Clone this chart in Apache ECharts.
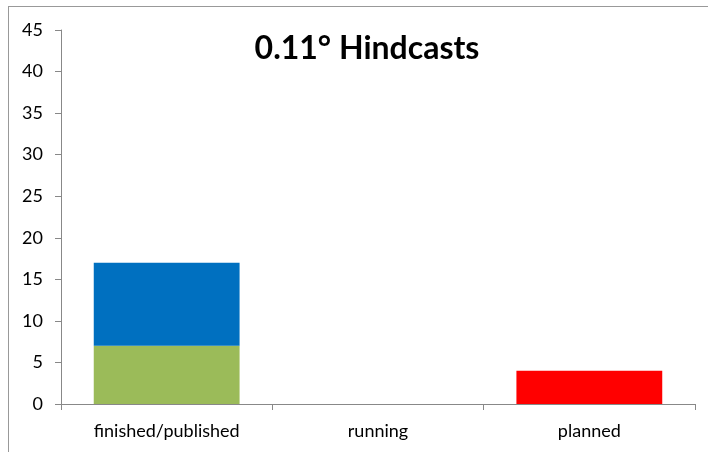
<!DOCTYPE html>
<html>
<head>
<meta charset="utf-8">
<script src="https://cdn.jsdelivr.net/npm/echarts@6/dist/echarts.min.js"></script>
<style>
  html, body { margin: 0; padding: 0; background: #fff; }
  #frame { position: absolute; left: 8px; top: 6px; width: 720px; height: 470px; border: 1px solid #999; box-sizing: border-box; }
  #main { position: absolute; left: 0; top: 0; width: 708px; height: 452px; }
</style>
</head>
<body>
<div id="frame"></div>
<div id="main"></div>
<script>
var categories = ["finished/published", "running", "planned"];
var finishedLow = [7, 0, 0];     // green part
var finishedHigh = [10, 0, 0];   // blue part stacked on top
var planned = [0, 0, 4];         // red

var font = "Lato, 'Open Sans', sans-serif";
var chartDom = document.getElementById("main");
var myChart = echarts.init(chartDom);
var option = {
  animation: false,
  title: {
    text: "0.11° Hindcasts",
    left: 362,
    top: 28,
    textAlign: "center",
    textStyle: { fontFamily: font, fontWeight: "bold", fontSize: 32, color: "#000" }
  },
  grid: { left: 61, right: 13, top: 30, bottom: 48 },
  xAxis: {
    type: "category",
    data: categories,
    axisLine: { lineStyle: { color: "#888" } },
    axisTick: { show: true, length: 6, lineStyle: { color: "#888" } },
    axisLabel: { fontFamily: font, fontSize: 18, color: "#000", margin: 18 }
  },
  yAxis: {
    type: "value",
    min: 0,
    max: 45,
    interval: 5,
    axisLine: { show: true, lineStyle: { color: "#888" } },
    axisTick: { show: true, length: 6, lineStyle: { color: "#888" } },
    splitLine: { show: false },
    axisLabel: { fontFamily: font, fontSize: 18, color: "#000", margin: 18 }
  },
  series: [
    {
      type: "bar", stack: "a", data: finishedLow,
      barCategoryGap: "31%",
      itemStyle: { color: "#9BBB59" }
    },
    {
      type: "bar", stack: "a", data: finishedHigh,
      itemStyle: { color: "#0070C0" }
    },
    {
      type: "bar", stack: "a", data: planned,
      itemStyle: { color: "#FF0000" }
    }
  ]
};
option && myChart.setOption(option);
</script>
</body>
</html>
